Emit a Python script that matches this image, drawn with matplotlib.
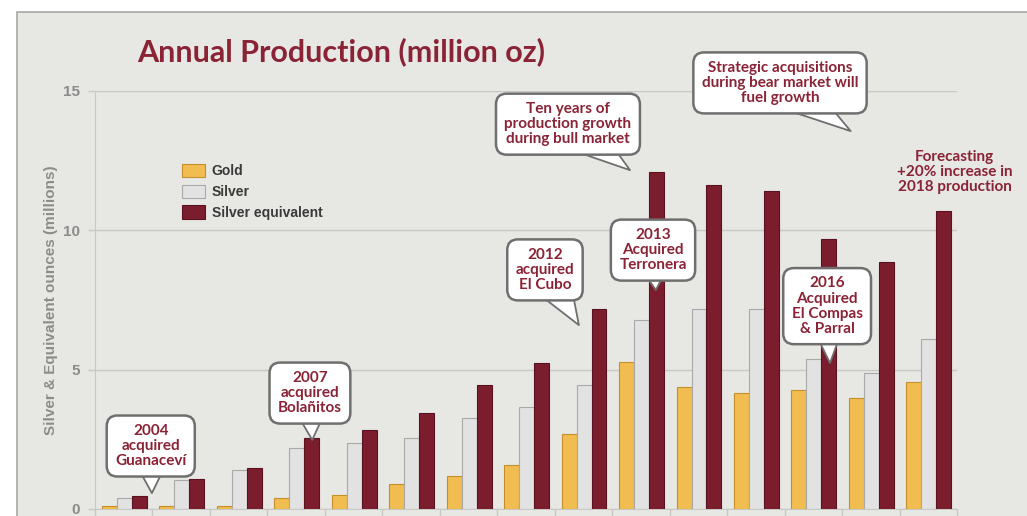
import numpy as np
import matplotlib
matplotlib.use("Agg")
import matplotlib.pyplot as plt
from matplotlib.patches import Rectangle

# production by year (million oz)
years = ["2004", "2005", "2006", "2007", "2008", "2009", "2010", "2011",
         "2012", "2013", "2014", "2015", "2016", "2017", "2018"]
gold = [0.1, 0.1, 0.1, 0.4, 0.5, 0.9, 1.18, 1.58, 2.69, 5.28, 4.38, 4.17, 4.27, 3.98, 4.56]
silver = [0.4, 1.04, 1.4, 2.18, 2.36, 2.55, 3.27, 3.67, 4.44, 6.77, 7.17, 7.17, 5.38, 4.87, 6.09]
silver_eq = [0.47, 1.09, 1.47, 2.55, 2.83, 3.45, 4.44, 5.24, 7.17, 12.09, 11.61, 11.41, 9.68, 8.86, 10.69]

red = "#8a2335"
bg = "#e7e7e3"

fig = plt.figure(figsize=(10.27, 5.16), dpi=100, facecolor="white")
# slide panel
fig.patches.append(Rectangle((17/1027, -0.1), 1.2, (516-12)/516 + 0.1,
                             transform=fig.transFigure, facecolor=bg,
                             edgecolor="#a8a8a8", linewidth=1.2, zorder=-10))

ax = fig.add_axes([95/1027, 7/516, 862/1027, 418/516])
ax.set_facecolor("none")

x = np.arange(len(years))
w = 0.26
ax.bar(x - w + 0.01, gold, w, color="#f2bd50", edgecolor="#c48e2c", linewidth=0.8, label="Gold", zorder=3)
ax.bar(x + 0.01, silver, w, color="#e2e2e2", edgecolor="#a9a9a9", linewidth=0.8, label="Silver", zorder=3)
ax.bar(x + w + 0.01, silver_eq, w, color="#7b1d2d", edgecolor="#5a1220", linewidth=0.8, label="Silver equivalent", zorder=3)

ax.set_xlim(-0.5, len(years) - 0.5)
ax.set_ylim(0, 15)
ax.set_yticks([0, 5, 10, 15])
ax.yaxis.grid(True, color="#c8c8c4", linewidth=1.0, zorder=0)
ax.set_axisbelow(True)
ax.set_xticks(np.arange(len(years) + 1) - 0.5)
ax.set_xticklabels([])
ax.tick_params(axis="x", length=8, color="#c8c8c4", width=1)
ax.tick_params(axis="y", length=5, color="#c8c8c4", width=1, pad=6,
               labelsize=11, labelcolor="#8c8c8c")
for lab in ax.get_yticklabels():
    lab.set_fontweight("bold")
    lab.set_family("Liberation Sans")
for s in ["top", "right"]:
    ax.spines[s].set_visible(False)
ax.spines["left"].set_color("#c8c8c4")
ax.spines["bottom"].set_color("#c8c8c4")

ax.set_ylabel("Silver & Equivalent ounces (millions)", fontsize=11, color="#8c8c8c",
              fontweight="bold", family="Liberation Sans")
ax.yaxis.set_label_coords(-37/862, 0.5)

fig.text(137/1027, 1 - 52/516, "Annual Production (million oz)", fontsize=22,
         color=red, family="Lato", fontweight="bold", va="center", ha="left")

leg = ax.legend(loc="upper left", bbox_to_anchor=(0.087, 0.855), frameon=False,
                handlelength=1.6, handleheight=1.1, labelspacing=0.45,
                handletextpad=0.5, prop={"family": "Liberation Sans", "weight": "bold", "size": 10})
for t in leg.get_texts():
    t.set_color("#3a3a3a")

callouts = [
    ("2004\nacquired\nGuanaceví", (0.47, 2.26), (0.49, 0.57)),
    ("2007\nacquired\nBolañitos", (3.24, 4.16), (3.28, 2.48)),
    ("2012\nacquired\nEl Cubo", (7.33, 8.58), (7.92, 6.60)),
    ("2013\nAcquired\nTerronera", (9.21, 9.29), (9.26, 7.86)),
    ("Ten years of\nproduction growth\nduring bull market", (7.73, 13.81), (8.81, 12.16)),
    ("Strategic acquisitions\nduring bear market will\nfuel growth", (11.42, 15.29), (12.65, 13.56)),
    ("2016\nAcquired\nEl Compas\n& Parral", (12.24, 7.28), (12.29, 5.24)),
]
for txt, pos, tip in callouts:
    ax.annotate(txt, xy=tip, xytext=pos, ha="center", va="center",
                fontsize=11, color=red, family="Lato", fontweight="bold",
                linespacing=1.1, annotation_clip=False, zorder=6,
                bbox=dict(boxstyle="round,pad=0.55,rounding_size=0.7",
                          fc="white", ec="#6f6f6f", lw=1.8),
                arrowprops=dict(arrowstyle="wedge,tail_width=3.2,shrink_factor=0.5",
                                fc="white", ec="#6f6f6f", lw=1.3,
                                patchA=None, shrinkA=0, shrinkB=0))

ax.text(14.46, 12.09, "Forecasting\n+20% increase in\n2018 production", ha="center",
        va="center", fontsize=11, color=red, family="Lato", fontweight="bold",
        linespacing=1.1, zorder=6)

fig.savefig("out.png", dpi=100, facecolor="white")
